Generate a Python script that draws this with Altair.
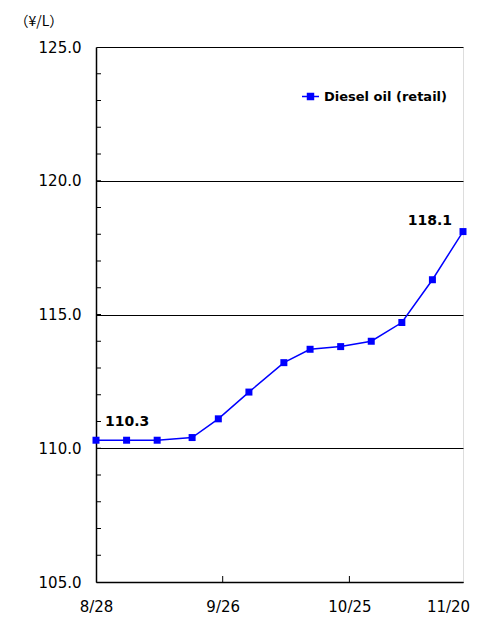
import altair as alt
import pandas as pd

# ---- data ----
dates = ["2023-08-28", "2023-09-04", "2023-09-11", "2023-09-19", "2023-09-25",
         "2023-10-02", "2023-10-10", "2023-10-16", "2023-10-23", "2023-10-30",
         "2023-11-06", "2023-11-13", "2023-11-20"]
prices = [110.3, 110.3, 110.3, 110.4, 111.1, 112.1, 113.2, 113.7, 113.8,
          114.0, 114.7, 116.3, 118.1]
series_name = "Diesel oil (retail)"
x_label_dates = [(2023, 8, 28), (2023, 9, 26), (2023, 10, 25), (2023, 11, 20)]
x_inner_ticks = ["2023-09-26", "2023-10-25"]
y_major = [105, 110, 115, 120, 125]
y_minor = list(range(106, 125))

df = pd.DataFrame({"date": dates, "price": prices, "series": series_name})

W, H = 367, 535
FONT = "DejaVu Sans"

xscale = alt.Scale(
    type="utc",
    domain=[alt.DateTime(year=2023, month=8, date=28, utc=True),
            alt.DateTime(year=2023, month=11, date=20, utc=True)],
)
yscale = alt.Scale(domain=[105, 125], nice=False, zero=False)

xaxis = alt.Axis(
    values=[alt.DateTime(year=y, month=m, date=d, utc=True) for y, m, d in x_label_dates],
    format="%-m/%-d", title=None, ticks=False, grid=False,
    domainColor="black", domainWidth=1.5,
    labelFont=FONT, labelFontSize=15, labelColor="black", labelPadding=17,
    labelFlush=False,
    labelOffset={"condition": {"test": "datum.label == '11/20'", "value": -15}, "value": 0},
)
yaxis = alt.Axis(
    values=y_major, format=".1f", grid=True, gridColor="black", gridWidth=1,
    ticks=False, domainColor="black", domainWidth=1.5,
    labelFont=FONT, labelFontSize=15, labelColor="black", labelPadding=15,
    title="（¥/L）", titleAngle=0, titleAlign="left", titleBaseline="middle",
    titleX=-82, titleY=-26, titleFont="Noto Sans CJK JP", titleFontSize=14,
    titleFontWeight="normal", titleColor="black",
)

X = alt.X("date:T", scale=xscale, axis=xaxis)
Y = alt.Y("price:Q", scale=yscale, axis=yaxis)

line = alt.Chart(df).mark_line(color="#0000FF", strokeWidth=1.5).encode(
    x=X, y=Y,
    color=alt.Color(
        "series:N", scale=alt.Scale(range=["#0000FF"]),
        legend=alt.Legend(
            title=None, orient="none", legendX=205, legendY=40, padding=0,
            symbolType="M-1,0L1,0M-0.35,-0.35L0.35,-0.35L0.35,0.35L-0.35,0.35Z",
            symbolSize=289, symbolFillColor="#0000FF", symbolStrokeColor="#0000FF",
            symbolStrokeWidth=1.5,
            labelFont=FONT, labelFontSize=13, labelFontWeight="bold",
            labelColor="black", labelOffset=4,
        ),
    ),
)

points = alt.Chart(df).mark_square(size=49, color="#0000FF", opacity=1).encode(x=X, y=Y)

first_label = alt.Chart(df.iloc[[0]]).mark_text(
    align="left", dx=9, dy=-18, font=FONT, fontSize=14, fontWeight="bold", color="black"
).encode(x=X, y=Y, text=alt.Text("price:Q", format=".1f"))

last_label = alt.Chart(df.iloc[[-1]]).mark_text(
    align="right", dx=-11, dy=-11, font=FONT, fontSize=14, fontWeight="bold", color="black"
).encode(x=X, y=Y, text=alt.Text("price:Q", format=".1f"))

minor_y = alt.Chart(pd.DataFrame({"price": y_minor})).mark_rule(color="black", strokeWidth=1).encode(
    y=Y, x=alt.value(0), x2=alt.value(5)
)

inner_x = alt.Chart(pd.DataFrame({"date": x_inner_ticks})).mark_rule(color="black", strokeWidth=1).encode(
    x=X, y=alt.value(H - 6), y2=alt.value(H)
)

chart = alt.layer(line, points, first_label, last_label, minor_y, inner_x).properties(
    width=W, height=H,
    autosize=alt.AutoSizeParams(type="none"),
    padding={"left": 88, "top": 39, "right": 12, "bottom": 32},
).configure_view(stroke="black", strokeWidth=1).configure(background="white")

chart.save("out.html", embed_options={"renderer": "svg", "actions": False})
